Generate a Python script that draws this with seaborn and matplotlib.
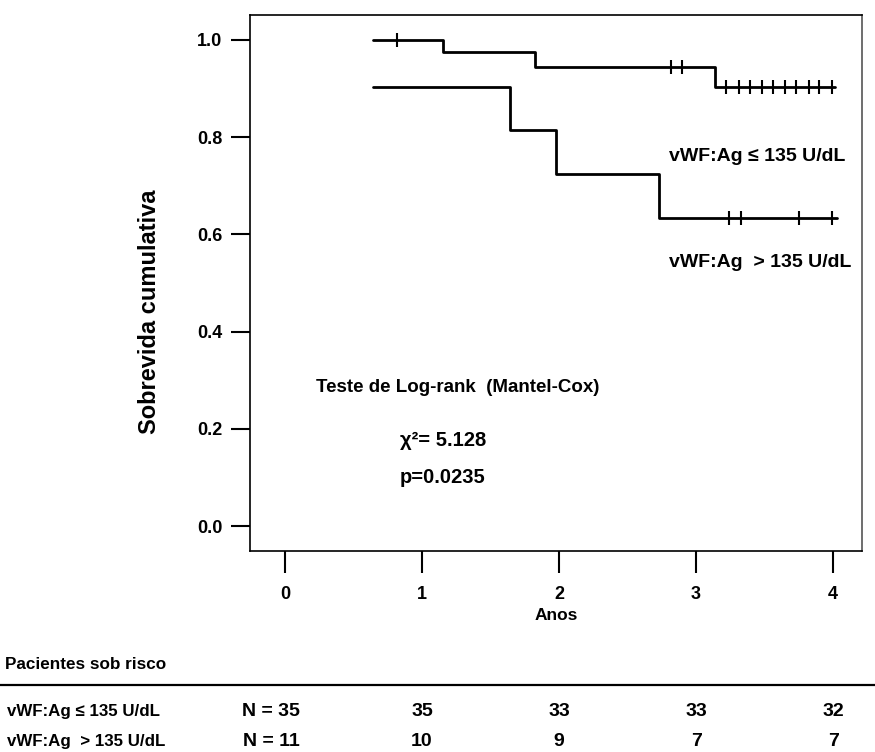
import numpy as np
import pandas as pd
import matplotlib
matplotlib.use('Agg')
import matplotlib.pyplot as plt
import matplotlib.transforms as mtransforms
from matplotlib.lines import Line2D
import seaborn as sns

# Kaplan-Meier steps
t_low = [0.645, 1.15, 1.825, 3.14, 4.01]
s_low = [1.0, 0.974, 0.943, 0.902, 0.902]
cens_low = [0.82, 2.82, 2.90, 3.22, 3.31, 3.39, 3.48, 3.56, 3.65, 3.73, 3.82, 3.90, 3.99]

t_high = [0.645, 1.64, 1.98, 2.73, 4.03]
s_high = [0.902, 0.815, 0.724, 0.633, 0.633]
cens_high = [3.24, 3.33, 3.75, 3.99]

# patients at risk
risk_times = [1, 2, 3, 4]
risk_low = [35, 33, 33, 32]
risk_high = [10, 9, 7, 7]
n_low = 35
n_high = 11

label_low = 'vWF:Ag \u2264 135 U/dL'
label_high = 'vWF:Ag  > 135 U/dL'

sns.set_style('ticks')
plt.rcParams['font.family'] = ['Liberation Sans', 'DejaVu Sans']
plt.rcParams['font.weight'] = 'bold'
for k in ['text.color', 'axes.labelcolor', 'xtick.color', 'ytick.color', 'axes.edgecolor']:
    plt.rcParams[k] = 'black'


def step_value(t, times, surv):
    i = np.searchsorted(times, t, side='right') - 1
    return surv[max(i, 0)]


df_low = pd.DataFrame({'t': t_low, 's': s_low})
df_high = pd.DataFrame({'t': t_high, 's': s_high})
cl = pd.DataFrame({'t': cens_low, 's': [step_value(c, t_low, s_low) for c in cens_low]})
ch = pd.DataFrame({'t': cens_high, 's': [step_value(c, t_high, s_high) for c in cens_high]})

fig = plt.figure(figsize=(8.75, 7.52), dpi=100)
ax = fig.add_axes([0.2857, 0.2673, 0.6994, 0.7128])

sns.lineplot(data=df_low, x='t', y='s', ax=ax, color='black', lw=2.0,
             drawstyle='steps-post', estimator=None, sort=False)
sns.lineplot(data=df_high, x='t', y='s', ax=ax, color='black', lw=2.0,
             drawstyle='steps-post', estimator=None, sort=False)
sns.scatterplot(data=cl, x='t', y='s', ax=ax, marker='|', s=90, color='black', linewidth=1.5)
sns.scatterplot(data=ch, x='t', y='s', ax=ax, marker='|', s=90, color='black', linewidth=1.5)

ax.set_xlim(-0.255, 4.21)
ax.set_ylim(-0.051, 1.051)
ax.set_xticks([0, 1, 2, 3, 4])
ax.set_yticks([0.0, 0.2, 0.4, 0.6, 0.8, 1.0])
ax.set_yticklabels(['0.0', '0.2', '0.4', '0.6', '0.8', '1.0'])
ax.tick_params(axis='x', direction='out', length=16, width=1.5, pad=9, labelsize=13)
ax.tick_params(axis='y', direction='out', length=14, width=1.5, pad=6, labelsize=13)
for sp in ax.spines.values():
    sp.set_linewidth(1.2)
    sp.set_color('black')
ax.spines['right'].set_color('#555555')

ax.set_xlabel('Anos', fontsize=12.5, fontweight='bold')
ax.xaxis.set_label_coords(0.5, -0.106)
ax.set_ylabel('Sobrevida cumulativa', fontsize=17, fontweight='bold')
ax.yaxis.set_label_coords(-0.145, 0.446)

ax.text(1.26, 0.286, 'Teste de Log-rank  (Mantel-Cox)', ha='center', va='center',
        fontsize=13.5, fontweight='bold')
ax.text(0.84, 0.177, '\u03c7\u00b2= 5.128', ha='left', va='center', fontsize=14.5, fontweight='bold')
ax.text(0.84, 0.101, 'p=0.0235', ha='left', va='center', fontsize=14.5, fontweight='bold')
ax.text(2.80, 0.759, label_low, ha='left', va='center', fontsize=14, fontweight='bold')
ax.text(2.80, 0.543, label_high, ha='left', va='center', fontsize=14, fontweight='bold')

# patients at risk table below the axes
tr = mtransforms.blended_transform_factory(ax.transData, fig.transFigure)
fig.text(0.006, 0.117, 'Pacientes sob risco', ha='left', va='center', fontsize=12.3, fontweight='bold')
fig.add_artist(Line2D([0, 1], [0.089, 0.089], transform=fig.transFigure, color='black', lw=1.6))
row_y = [0.0532, 0.0146]
for y, lab, n0, vals in zip(row_y, [label_low, label_high], [n_low, n_high], [risk_low, risk_high]):
    fig.text(0.008, y, lab, ha='left', va='center', fontsize=12.2, fontweight='bold')
    ax.text(-0.1, y, 'N = %d' % n0, transform=tr, ha='center', va='center',
            fontsize=14, fontweight='bold', clip_on=False)
    for t, v in zip(risk_times, vals):
        ax.text(t, y, str(v), transform=tr, ha='center', va='center',
                fontsize=14, fontweight='bold', clip_on=False)

fig.savefig('out.png', dpi=100)
